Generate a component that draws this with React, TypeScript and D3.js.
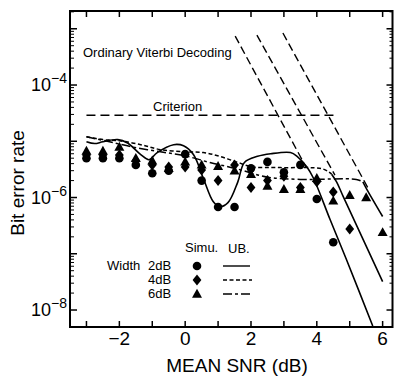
import React from 'react';
import * as d3 from 'd3';

// ---------- data ----------
const xTickValues = [-3, -2, -1, 0, 1, 2, 3, 4, 5, 6];
const xTickLabels = [-2, 0, 2, 4, 6];
const yDecades = [-8, -7, -6, -5, -4, -3];
const yLabelDecades = [-8, -6, -4];

// Simulation points
const sim2X = [-3, -2.5, -2, -1.5, -1, -0.5, 0, 0.5, 1, 1.5, 2, 2.5, 3, 3.5, 4, 4.5];
const sim2Y = [5.0e-6, 5.0e-6, 5.0e-6, 3.8e-6, 2.7e-6, 3.0e-6, 5.9e-6, 2.0e-6, 6.8e-7, 6.8e-7, 3.3e-6, 4.3e-6, 2.8e-6, 3.8e-6, 9.4e-7, 1.6e-7];
const sim4X = [-3, -2.5, -2, -1.5, -1, -0.5, 0, 0.5, 1, 1.5, 2, 2.5, 3, 3.5, 4, 4.5, 5];
const sim4Y = [5.7e-6, 5.7e-6, 5.7e-6, 4.5e-6, 3.8e-6, 3.5e-6, 3.5e-6, 3.1e-6, 2.0e-6, 3.8e-6, 1.5e-6, 2.0e-6, 2.4e-6, 1.5e-6, 1.9e-6, 1.25e-6, 2.75e-7];
const sim6X = [-3, -2.5, -2, -1.5, -1, -0.5, 0, 0.5, 1, 1.5, 2, 2.5, 3, 3.5, 4, 4.5, 5, 5.5, 6];
const sim6Y = [6.7e-6, 6.7e-6, 7.9e-6, 5.0e-6, 4.5e-6, 3.3e-6, 4.3e-6, 3.8e-6, 3.6e-6, 3.0e-6, 2.6e-6, 1.6e-6, 1.4e-6, 1.4e-6, 2.2e-6, 8.7e-7, 1.1e-6, 1.0e-6, 2.4e-7];

// Upper bounds
const ub2X = [-3, -2.75, -2.5, -2.05, -1.75, -1.35, -1.1, -0.85, -0.35, -0.05, 0.25, 0.55, 0.85, 1.05, 1.3, 1.6, 1.8, 2.2, 2.6, 3.2, 3.4, 3.7, 3.9, 4.4, 4.9, 5.7];
const ub2Y = [9.8e-6, 9.1e-6, 9.8e-6, 1.07e-5, 9.3e-6, 5.8e-6, 4.7e-6, 6.3e-6, 8.7e-6, 8.3e-6, 5.8e-6, 2.2e-6, 8.5e-7, 6.9e-7, 8.1e-7, 1.9e-6, 4.2e-6, 5.4e-6, 6.0e-6, 6.3e-6, 5.4e-6, 3.5e-6, 2.2e-6, 4.1e-7, 7.9e-8, 5.2e-9];
const ub4X = [-3, -2.5, -2, -1.35, -0.75, 0, 0.55, 1.05, 1.6, 2.05, 2.9, 4.2, 4.45];
const ub4Y = [1.2e-5, 1.07e-5, 1.02e-5, 8.7e-6, 7.1e-6, 6.5e-6, 6.3e-6, 5.4e-6, 4.2e-6, 3.5e-6, 3.4e-6, 3.2e-6, 2.6e-6];
const ub4TailX = [4.45, 4.6, 4.8, 6.0];
const ub4TailY = [2.6e-6, 1.9e-6, 1.05e-6, 3.2e-8];
const ub6X = [-3, -2.3, -1.6, -0.75, 0, 0.75, 1.6, 2.5, 3.5, 5.2, 5.4];
const ub6Y = [1.2e-5, 9.8e-6, 7.9e-6, 6.5e-6, 5.5e-6, 4.2e-6, 3.2e-6, 2.3e-6, 2.1e-6, 2.1e-6, 1.9e-6];
const ub6TailX = [5.4, 5.52, 6.0];
const ub6TailY = [1.9e-6, 1.4e-6, 4.6e-7];

// Ordinary Viterbi decoding lines
const vitX = [[1.52, 3.67], [2.18, 4.55], [2.97, 5.55]];
const vitY = [[7.4e-4, 3.5e-6], [7.7e-4, 2.5e-6], [8.4e-4, 1.5e-6]];

// Criterion
const critX = [-3, 4.6];
const critY = 2.9e-5;

const legendWidths = ['2dB', '4dB', '6dB'];

// ---------- layout ----------
const W = 396, H = 379;
const L = 70, R = 392.5, T = 11, B = 327;
const FONT = '"Liberation Sans", Arial, Helvetica, sans-serif';

const x = d3.scaleLinear().domain([-3.5, 6.3]).range([L, R]);
const y = d3.scaleLog().domain([Math.pow(10, -8.302), Math.pow(10, -2.684)]).range([B, T]);

const zip = (xs: number[], ys: number[]) => xs.map((v, i) => [v, ys[i]] as [number, number]);

const smooth = d3.line<[number, number]>().x(d => x(d[0])).y(d => y(d[1])).curve(d3.curveCatmullRom.alpha(0.5));
const straight = d3.line<[number, number]>().x(d => x(d[0])).y(d => y(d[1]));

const circleM = (cx: number, cy: number, k: string) => <circle key={k} cx={cx} cy={cy} r={4.3} fill="#000" />;
const diamondM = (cx: number, cy: number, k: string) => (
  <path key={k} d={`M${cx},${cy - 5.5}L${cx + 4.4},${cy}L${cx},${cy + 5.5}L${cx - 4.4},${cy}Z`} fill="#000" />
);
const triM = (cx: number, cy: number, k: string) => (
  <path key={k} d={`M${cx},${cy - 5.2}L${cx + 5},${cy + 3.7}L${cx - 5},${cy + 3.7}Z`} fill="#000" />
);

export default function App() {
  const minor: number[] = [];
  yDecades.forEach(d => {
    for (let m = 2; m <= 9; m++) {
      const v = m * Math.pow(10, d);
      if (y(v) >= T && y(v) <= B) minor.push(v);
    }
  });
  const majors = yDecades.map(d => Math.pow(10, d)).filter(v => y(v) >= T && y(v) <= B);

  return (
    <svg width={W} height={H} style={{ position: 'absolute', left: 0, top: 0, background: '#fff' }} fontFamily={FONT}>
      <defs>
        <clipPath id="plot">
          <rect x={L} y={T} width={R - L} height={B - T} />
        </clipPath>
      </defs>
      <rect x={0} y={0} width={W} height={H} fill="#fff" />

      <g clipPath="url(#plot)" fill="none" stroke="#000">
        {/* criterion */}
        <path d={straight([[critX[0], critY], [critX[1], critY]])!} strokeWidth={1.4} strokeDasharray="9,5" />
        {/* viterbi */}
        {vitX.map((xs, i) => (
          <path key={'v' + i} d={straight(zip(xs, vitY[i]))!} strokeWidth={1.4} strokeDasharray="8,4" />
        ))}
        {/* UB curves */}
        <path d={smooth(zip(ub2X, ub2Y))!} strokeWidth={1.6} />
        <path d={smooth(zip(ub4X, ub4Y))!} strokeWidth={1.5} strokeDasharray="4,2.5" />
        <path d={smooth(zip(ub4TailX, ub4TailY))!} strokeWidth={1.6} />
        <path d={smooth(zip(ub6X, ub6Y))!} strokeWidth={1.5} strokeDasharray="9,3,3,3" />
        <path d={smooth(zip(ub6TailX, ub6TailY))!} strokeWidth={1.6} />
      </g>

      <g>
        {sim2X.map((v, i) => circleM(x(v), y(sim2Y[i]), 'c' + i))}
        {sim4X.map((v, i) => diamondM(x(v), y(sim4Y[i]), 'd' + i))}
        {sim6X.map((v, i) => triM(x(v), y(sim6Y[i]), 't' + i))}
      </g>

      {/* frame */}
      <rect x={L} y={T} width={R - L} height={B - T} fill="none" stroke="#000" strokeWidth={2} />
      {/* x ticks */}
      {xTickValues.map(v => (
        <g key={'xt' + v} stroke="#000" strokeWidth={1.5}>
          <line x1={x(v)} x2={x(v)} y1={B} y2={B - 6} />
          <line x1={x(v)} x2={x(v)} y1={T} y2={T + 6} />
        </g>
      ))}
      {xTickLabels.map(v => (
        <text key={'xl' + v} x={x(v)} y={345} fontSize={19} textAnchor="middle" fill="#000">
          {v < 0 ? '\u2212' + Math.abs(v) : String(v)}
        </text>
      ))}
      {/* y ticks */}
      {majors.map((v, i) => (
        <g key={'ym' + i} stroke="#000" strokeWidth={1.5}>
          <line x1={L} x2={L + 7} y1={y(v)} y2={y(v)} />
          <line x1={R} x2={R - 6} y1={y(v)} y2={y(v)} />
        </g>
      ))}
      {minor.map((v, i) => (
        <g key={'yn' + i} stroke="#000" strokeWidth={1}>
          <line x1={L} x2={L + 4} y1={y(v)} y2={y(v)} />
          <line x1={R} x2={R - 3} y1={y(v)} y2={y(v)} />
        </g>
      ))}
      {yLabelDecades.map(d => (
        <text key={'yl' + d} x={67} y={y(Math.pow(10, d)) + 6} fontSize={18} textAnchor="end" fill="#000">
          10<tspan dy={-8} fontSize={14}>{'\u2212' + Math.abs(d)}</tspan>
        </text>
      ))}

      {/* axis titles */}
      <text x={237} y={372} fontSize={19} textAnchor="middle" fill="#000">MEAN SNR (dB)</text>
      <text transform="translate(24,183) rotate(-90)" fontSize={19} textAnchor="middle" fill="#000">Bit error rate</text>

      {/* annotations */}
      <text x={83} y={57} fontSize={13} fill="#000">Ordinary Viterbi Decoding</text>
      <text x={153} y={111} fontSize={13} fill="#000">Criterion</text>

      {/* legend */}
      <text x={185} y={252} fontSize={13} fill="#000">Simu.</text>
      <text x={228} y={253} fontSize={13} fill="#000">UB.</text>
      <text x={107} y={270} fontSize={13} fill="#000">Width</text>
      {legendWidths.map((w, i) => (
        <text key={'lw' + i} x={148} y={270 + i * 14} fontSize={13} fill="#000">{w}</text>
      ))}
      {circleM(197, 266, 'lc')}
      {diamondM(197, 280, 'ld')}
      {triM(197, 294, 'lt')}
      <line x1={223} x2={250} y1={266} y2={266} stroke="#000" strokeWidth={1.4} />
      <line x1={223} x2={252} y1={280} y2={280} stroke="#000" strokeWidth={1.4} strokeDasharray="4,2.5" />
      <line x1={223} x2={252} y1={294} y2={294} stroke="#000" strokeWidth={1.4} strokeDasharray="9,3,3,3" />
    </svg>
  );
}
